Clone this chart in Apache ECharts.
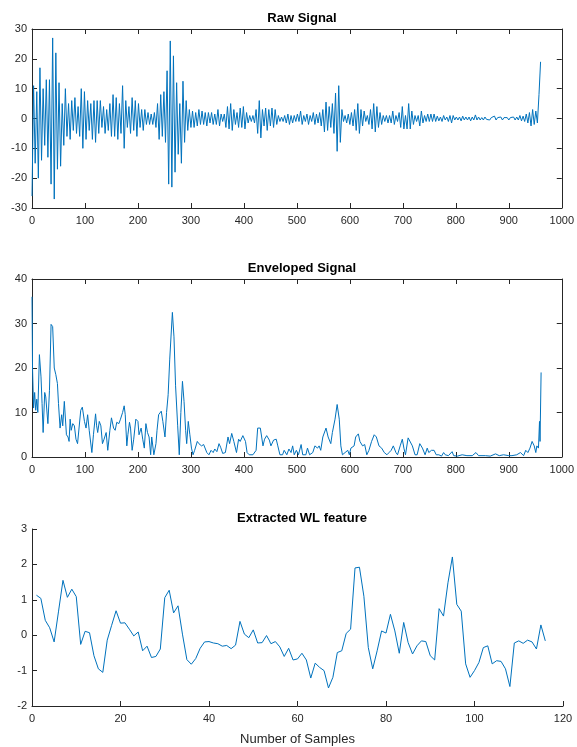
<!DOCTYPE html>
<html>
<head>
<meta charset="utf-8">
<script src="https://cdn.jsdelivr.net/npm/echarts@6/dist/echarts.min.js"></script>
<style>
html,body{margin:0;padding:0;background:#fff;}
#chart{width:577px;height:747px;}
</style>
</head>
<body>
<div id="chart"></div>
<script>
// ---------- DATA ----------
const titles = ['Raw Signal', 'Enveloped Signal', 'Extracted WL feature'];
const xAxisName = 'Number of Samples';

// Raw signal: one reading every rawStep samples
const rawStep = 3;
const rawValues = [
-26,11,-15,9,-20,17,-14,10,-9,13,-13,13,-22,27,-27,22,-17,12,-16,5,-9,
10,-6,5,-7,6,-4,7,-5,4,-6,10,-10,9,-7,6,-4,5,-7,6,-8,6,-5,6,-3,4,-5,3,-4,5,-6,
8,-6,7,-7,5,-5,11,-10,6,-3,4,-5,7,-4,6,-6,5,-3,3,-4,3,-2,2,-2,1.5,-2,2,-3,5,
-7,8,-6,9,-8,16,-22,26,-23,21,-18,12,-12,5,-15,12.5,-8,6,-4,3,
-3,2.5,-3,2,-2.5,3,-2,2.5,-2,2,-2.5,2,-1.5,2,-2,1.5,-2,3,-2.5,1.5,
-1,1.5,-3,4,-3.5,5,-4,3,-2,2,-3,3.5,-3,4,-3.5,2,-1.5,1,-1,1,
-1.5,3,-5,6,-6.5,3,-2.5,3.5,-4,3,-2.5,3.5,-3,3,-2,1,-1,0.5,-1,1,
-1.5,1.5,-2,1,-1.5,1,-1,1.5,-1,2.5,-2,1,-1,1.5,-2,1,-1,2,-2,1.5,
-1.5,2,-2.5,3,-4.5,5.5,-4,4,-3,5,-5,8.5,-11,11,-8,3,-1,1,-1.5,1.5,
-2,2,-2.5,3,-4,5,-5,3,-2.5,2.5,-1,1,-2,3,-3.5,5,-4.5,4,-3,2,
-2,1,-1,1,-1.5,1,-1.5,2.5,-2,1,-1,2,-3,4,-3.5,1,-3.5,5,-3.5,2.5,
-2,1,-1,1,-2.5,2.5,-1.5,1,-1,1.5,-1,1.5,-1,1.5,-1,0.8,-0.8,0.5,-1,1,
-0.5,0.5,-1,1,-1.5,1,-0.5,0.5,-0.5,0.5,-0.8,0.8,-0.5,0.5,-0.5,0.5,-0.8,0.5,-0.5,1.2,
-0.5,0.5,-0.5,0.3,-0.5,0.5,-0.3,0.3,-0.5,0.3,-0.3,0.8,-0.5,0.3,-0.3,0.5,-0.5,0.3,-0.3,0.3,
-0.5,0.3,-0.3,0.5,-0.5,0.5,-0.5,1,-0.8,0.8,-1,1.5,-1.5,2,-2.5,3,-2,2.5,-1.5,8,19
];

// Enveloped signal: sample positions and values
const envSamples = [0,1,3,5,7,9,11,14,17,19,21,24,26,30,33,36,39,42,45,48,50,53,56,58,61,65,68,70,72,74,77,80,83,86,92,95,99,102,105,108,113,116,120,122,124,127,130,133,136,140,143,147,150,154,157,160,164,167,171,174,176,179,181,184,186,189,192,196,200,202,206,209,212,215,218,221,224,226,230,234,236,239,244,247,251,254,257,260,265,268,271,275,278,281,284,287,290,292,295,298,301,304,307,312,315,320,324,327,330,334,338,342,345,349,353,356,360,365,370,373,377,381,386,390,393,398,403,406,410,417,423,426,431,436,439,443,448,451,456,461,464,468,473,476,481,485,489,492,495,499,503,508,511,517,520,524,530,534,539,542,545,549,552,555,559,564,567,572,576,580,583,586,591,596,599,602,608,611,616,619,624,628,632,636,641,646,650,655,660,665,670,674,678,682,687,690,695,699,702,705,710,713,718,723,727,732,737,742,746,749,754,759,763,768,773,777,780,786,793,796,803,812,821,831,838,843,856,865,875,882,890,900,906,915,922,928,932,936,940,944,948,951,953,956,958,959,961];
const envValues = [36,20,11,14.5,10.5,13,10,23,18,12,5.5,14.5,13.5,7.5,15,29.8,29.3,20,18.5,16.5,12,6.5,9.5,7,12.5,5,4.5,3.5,8.5,6,7.5,7,4,3,10.5,11.2,8,6.5,9.5,6,1,5,9.7,7,5.5,8,7,3,4,5.5,1.5,6,8.8,6.5,6,7.8,7.5,8.5,10,11.5,9.5,2.5,5,7.8,6.5,1.5,4,8.5,8,5,6.5,4,2,7.5,5.5,4.5,0.5,4.5,0.5,3,6,9.5,10.3,8,4.5,10,14,22,32.5,27,16,7,0.5,10,17,12.5,6,3,8,5,2,0.5,1.5,3.5,3,2.5,2.8,3,1,0.5,1.5,1,1.8,1.2,3,2.2,0.8,1,4.5,3,5.3,3.5,1,4,3.5,4.8,3.5,1,0.5,0.5,1.5,6.5,6.5,2.5,4,4.8,3.8,2.5,3.8,4,2.5,0.5,0.5,1.5,0.5,1.8,1,2.5,0.5,1.5,0.5,2.8,0.5,0.5,2,0.5,1,2.5,2,2.5,1.5,4.5,4.8,6.5,4.5,3,5.5,8.5,11.8,8.5,2.5,0.5,1,1.5,0.5,2,2.5,4.5,5.2,3.5,2.5,2.8,0.5,1.5,3.5,5,4.5,2.5,2,1,0.5,1,1.5,2.5,1,0.5,2.5,4,2,0.5,4.3,4.5,2.5,0.5,0.5,3,2,0.5,2,1,1.5,1.5,0.5,0.5,0.2,1,0.5,0.3,1.2,0.3,0.2,0.5,0.3,0.3,1,0.3,0.3,0.2,0.7,0.3,0.5,0.3,0.3,0.5,1,0.3,1.5,1,2,3.5,2.5,1,2.5,2,8,3.5,19];

// Extracted WL feature, samples 1..116
const wlValues = [
1.13,1.04,0.42,0.21,-0.19,0.68,1.55,1.07,1.30,1.09,
-0.26,0.11,0.07,-0.58,-0.95,-1.05,-0.14,0.28,0.69,0.34,
0.35,0.17,-0.02,0.09,-0.44,-0.31,-0.63,-0.60,-0.39,1.06,
1.27,0.63,0.83,0.03,-0.69,-0.82,-0.66,-0.37,-0.19,-0.18,
-0.22,-0.24,-0.31,-0.29,-0.38,-0.28,0.39,0.03,-0.07,0.15,
-0.22,-0.21,-0.01,-0.24,-0.18,-0.33,-0.60,-0.37,-0.70,-0.67,
-0.51,-0.70,-1.21,-0.79,-0.91,-1.00,-1.49,-1.19,-0.49,-0.44,
0.05,0.17,1.90,1.92,1.10,-0.35,-0.95,-0.44,0.12,0.06,
0.59,0.12,-0.51,0.36,-0.21,-0.53,-0.30,-0.16,-0.18,-0.58,
-0.70,0.75,0.54,1.48,2.21,0.87,0.68,-0.81,-1.19,-1.00,
-0.77,-0.35,-0.30,-0.81,-0.72,-0.74,-0.95,-1.45,-0.22,-0.16,
-0.23,-0.14,-0.19,-0.39,0.29,-0.16
];

const rawTicks = {min: -30, max: 30, interval: 10};
const envTicks = {min: 0, max: 40, interval: 10};
const wlTicks = {min: -2, max: 3, interval: 1};
const sigX = {min: 0, max: 1000, interval: 100};
const wlX = {min: 0, max: 120, interval: 20};

// ---------- CHART ----------
const FONT = 'Liberation Sans, Arial, Helvetica, sans-serif';
const AX = '#262626';
const LINE = '#0072BD';
const rawData = rawValues.map((v, i) => [i * rawStep, v]);
const envData = envSamples.map((s, i) => [s, envValues[i]]);
const wlData = wlValues.map((v, i) => [i + 1, v]);

const grids = [
  {left: 32, right: 14, top: 29, height: 179},
  {left: 32, right: 14, top: 279, height: 178},
  {left: 32, right: 14, top: 529, height: 178}
];
const plain = v => String(v);

function mainX(g, r, name) {
  return {
    type: 'value', gridIndex: g, min: r.min, max: r.max, interval: r.interval,
    position: 'bottom',
    name: name || '', nameLocation: 'middle', nameGap: 27,
    nameTextStyle: {fontFamily: FONT, fontSize: 13, color: AX},
    axisLine: {show: true, onZero: false, lineStyle: {color: AX, width: 1}},
    axisTick: {show: true, inside: true, length: 5, lineStyle: {color: AX}},
    axisLabel: {show: true, fontFamily: FONT, fontSize: 11, color: AX, margin: 7, formatter: plain},
    splitLine: {show: false}
  };
}
function boxX(g, r) {
  return {
    type: 'value', gridIndex: g, min: r.min, max: r.max, interval: r.interval,
    position: 'top',
    axisLine: {show: true, onZero: false, lineStyle: {color: AX, width: 1}},
    axisTick: {show: true, inside: true, length: 5, lineStyle: {color: AX}},
    axisLabel: {show: false}, splitLine: {show: false}
  };
}
function mainY(g, r) {
  return {
    type: 'value', gridIndex: g, min: r.min, max: r.max, interval: r.interval,
    position: 'left',
    axisLine: {show: true, onZero: false, lineStyle: {color: AX, width: 1}},
    axisTick: {show: true, inside: true, length: 5, lineStyle: {color: AX}},
    axisLabel: {show: true, fontFamily: FONT, fontSize: 11, color: AX, margin: 5, formatter: plain},
    splitLine: {show: false}
  };
}
function boxY(g, r) {
  return {
    type: 'value', gridIndex: g, min: r.min, max: r.max, interval: r.interval,
    position: 'right',
    axisLine: {show: true, onZero: false, lineStyle: {color: AX, width: 1}},
    axisTick: {show: true, inside: true, length: 5, lineStyle: {color: AX}},
    axisLabel: {show: false}, splitLine: {show: false}
  };
}

const chart = echarts.init(document.getElementById('chart'), null, {renderer: 'canvas'});
const titleTops = [7, 257, 507];
chart.setOption({
  animation: false,
  backgroundColor: '#ffffff',
  title: titles.map((t, i) => ({
    text: t, left: 297, top: titleTops[i], textAlign: 'center',
    textStyle: {fontFamily: FONT, fontSize: 13, fontWeight: 'bold', color: '#000'}
  })),
  grid: grids,
  xAxis: [mainX(0, sigX), boxX(0, sigX), mainX(1, sigX), boxX(1, sigX), mainX(2, wlX, xAxisName)],
  yAxis: [mainY(0, rawTicks), boxY(0, rawTicks), mainY(1, envTicks), boxY(1, envTicks), mainY(2, wlTicks)],
  series: [
    {type: 'line', xAxisIndex: 0, yAxisIndex: 0, data: rawData, showSymbol: false,
     lineStyle: {color: LINE, width: 1}, silent: true},
    {type: 'line', xAxisIndex: 2, yAxisIndex: 2, data: envData, showSymbol: false,
     lineStyle: {color: LINE, width: 1}, silent: true},
    {type: 'line', xAxisIndex: 4, yAxisIndex: 4, data: wlData, showSymbol: false,
     lineStyle: {color: LINE, width: 1}, silent: true}
  ]
});
</script>
</body>
</html>
